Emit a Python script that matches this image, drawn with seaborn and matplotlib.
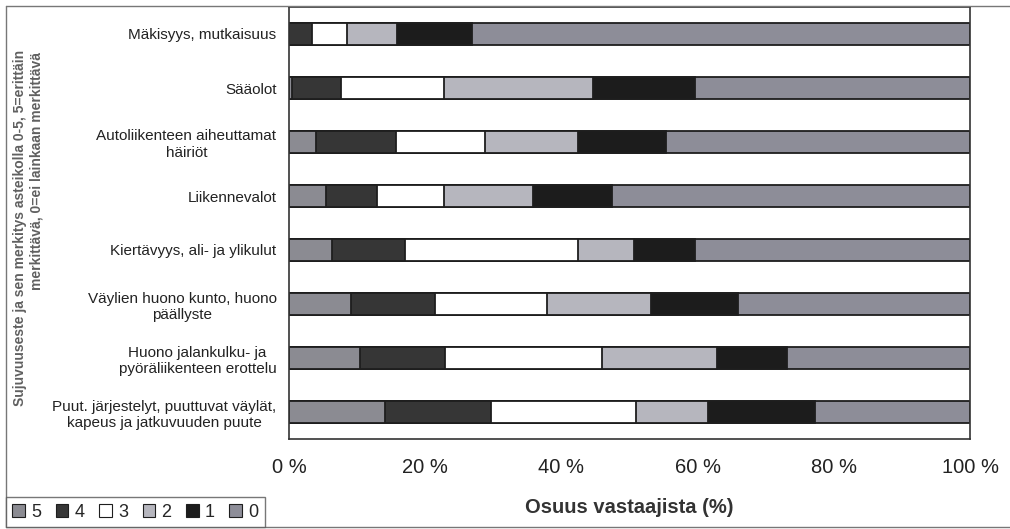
import matplotlib
matplotlib.use("Agg")
import matplotlib.pyplot as plt
from matplotlib.patches import Patch
from matplotlib.lines import Line2D
import numpy as np
import pandas as pd
import seaborn as sns

# Obstacle categories (top to bottom)
categories = [
    "Mäkisyys, mutkaisuus",
    "Sääolot",
    "Autoliikenteen aiheuttamat\nhäiriöt",
    "Liikennevalot",
    "Kiertävyys, ali- ja ylikulut",
    "Väylien huono kunto, huono\npäällyste",
    "Huono jalankulku- ja\npyöräliikenteen erottelu",
    "Puut. järjestelyt, puuttuvat väylät,\nkapeus ja jatkuvuuden puute",
]

# Share of respondents (%) per importance rating 5..0
rating_5 = [0.0, 0.5, 3.9, 5.4, 6.3, 9.1, 10.4, 14.1]
rating_4 = [3.4, 7.1, 11.8, 7.5, 10.8, 12.4, 12.5, 15.5]
rating_3 = [5.1, 15.2, 13.1, 9.9, 25.3, 16.4, 23.0, 21.3]
rating_2 = [7.4, 21.8, 13.6, 13.1, 8.3, 15.3, 16.9, 10.6]
rating_1 = [11.0, 15.0, 13.0, 11.6, 8.9, 12.7, 10.3, 15.7]
rating_0 = [73.1, 40.4, 44.6, 52.5, 40.4, 34.1, 26.9, 22.8]

levels = ["5", "4", "3", "2", "1", "0"]
series = [rating_5, rating_4, rating_3, rating_2, rating_1, rating_0]
colors = ["#8b8b92", "#363636", "#ffffff", "#b6b6be", "#1c1c1c", "#8d8d98"]

x_ticks = [0, 20, 40, 60, 80, 100]
x_ticklabels = ["0 %", "20 %", "40 %", "60 %", "80 %", "100 %"]

# Long table with the cumulative right edge of every segment
rows = []
cum = np.zeros(len(categories))
for lvl, vals in zip(levels, series):
    cum = cum + np.array(vals)
    for cat, c in zip(categories, cum):
        rows.append({"category": cat, "level": lvl, "cum": c})
df = pd.DataFrame(rows)

sns.set_style("white")
plt.rcParams["font.family"] = ["Liberation Sans", "DejaVu Sans"]

fig = plt.figure(figsize=(10.10, 5.29), dpi=100)
ax = fig.add_axes([289 / 1010, 1 - 439 / 529, (970 - 289) / 1010, (439 - 7) / 529])

edge = "#1e1e1e"
# Stacked bars: draw the widest cumulative layer first, narrower ones on top
for lvl, col in reversed(list(zip(levels, colors))):
    sub = df[df["level"] == lvl]
    sns.barplot(data=sub, x="cum", y="category", order=categories, orient="h",
                color=col, saturation=1, width=0.42, edgecolor=edge,
                linewidth=1.3, ax=ax)

ax.set_xlim(0, 100)
ax.set_ylim(len(categories) - 0.5, -0.5)
ax.set_xticks(x_ticks)
ax.set_xticklabels(x_ticklabels, fontsize=14.5, color="#222222")
ax.tick_params(axis="x", direction="inout", length=7, width=1, color="#333333", pad=10)

ax.set_yticks(range(len(categories)))
ax.set_yticklabels(categories, fontsize=11, color="#222222", linespacing=1.25)
for lbl in ax.get_yticklabels():
    lbl.set_multialignment("center")
ax.tick_params(axis="y", which="major", length=0, pad=9)
ax.set_yticks(np.arange(-0.5, len(categories), 1.0), minor=True)
ax.tick_params(axis="y", which="minor", direction="inout", length=7, width=1, color="#333333")

ax.set_xlabel("Osuus vastaajista (%)", fontsize=14.5, fontweight="bold",
              color="#333333", labelpad=15)
ax.set_ylabel("")
for s in ax.spines.values():
    s.set_visible(True)
    s.set_color("#333333")
    s.set_linewidth(1.2)

# Rotated two-line axis title, end-aligned at the top
fig.text(20 / 1010, 1 - 50 / 529,
         "Sujuvuuseste ja sen merkitys asteikolla 0-5, 5=erittäin",
         rotation=90, ha="center", va="top", fontsize=10, fontweight="bold",
         color="#606060")
fig.text(37 / 1010, 1 - 52 / 529,
         "merkittävä, 0=ei lainkaan merkittävä",
         rotation=90, ha="center", va="top", fontsize=10, fontweight="bold",
         color="#606060")

# Outer chart border
border = dict(color="#777777", linewidth=1.0, transform=fig.transFigure)
fig.add_artist(Line2D([6 / 1010, 1], [1 - 6 / 529, 1 - 6 / 529], **border))
fig.add_artist(Line2D([6 / 1010, 6 / 1010], [1 - 6 / 529, 1 - 527 / 529], **border))
fig.add_artist(Line2D([6 / 1010, 1], [1 - 527 / 529, 1 - 527 / 529], **border))

handles = [Patch(facecolor=c, edgecolor=edge, linewidth=0.8) for c in colors]
leg = fig.legend(handles, levels, loc="lower left",
                 bbox_to_anchor=(6 / 1010, 1 - 527 / 529), ncol=6, fontsize=13,
                 handlelength=0.7, handleheight=0.7, handletextpad=0.35,
                 columnspacing=0.8, frameon=True, fancybox=False,
                 borderpad=0.35, borderaxespad=0)
leg.get_frame().set_edgecolor("#555555")
leg.get_frame().set_linewidth(1.0)

fig.savefig("out.png", dpi=100)
